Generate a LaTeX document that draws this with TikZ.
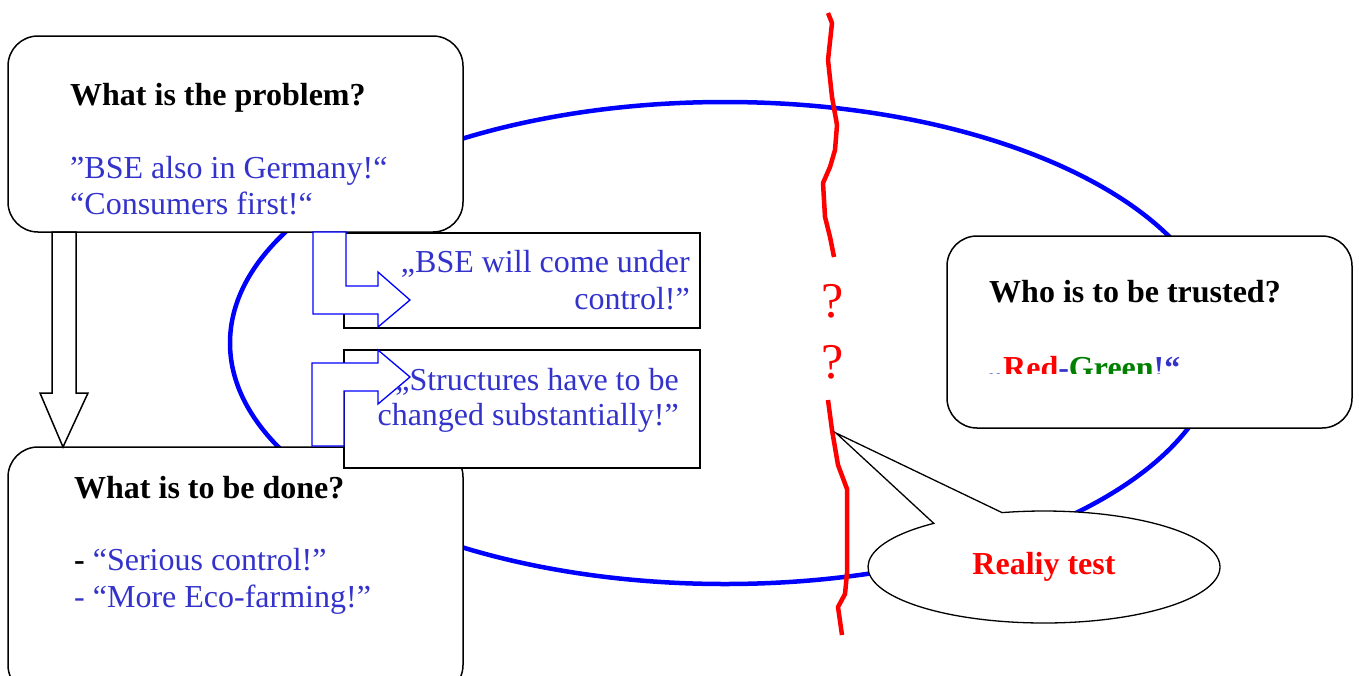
\documentclass[tikz,border=0pt]{standalone}
\usepackage{fontspec}
\setmainfont{Liberation Serif}
\usetikzlibrary{shapes.callouts}
\definecolor{quoteblue}{RGB}{51,51,204}
\definecolor{partygreen}{RGB}{0,128,0}

\begin{document}
\fontsize{32}{37}\selectfont
\begin{tikzpicture}[x=1pt,y=-1pt,
        roundbox/.style={draw, line width=1.5pt, fill=white, rounded corners=30pt, inner sep=0pt},
        plainbox/.style={draw, line width=1.5pt, fill=white, inner sep=0pt},
        title/.style={font=\bfseries, anchor=base west, inner sep=0pt},
        said/.style={text=quoteblue, anchor=base west, inner sep=0pt},
        saidright/.style={text=quoteblue, anchor=base east, inner sep=0pt},
        blockarrow/.style={draw=blue, line width=1.3pt, fill=white},
        cutline/.style={red, line width=4.5pt, line join=round}]
        \useasboundingbox (0,0) rectangle (1359,675);
        \draw[blue, line width=4.5pt] (725,343) ellipse [x radius=495, y radius=241]; % the cycle
        % boxes
        \node[roundbox, minimum width=455pt, minimum height=196pt] (probbox) at (235.5,134) {};
        \node[roundbox, minimum width=455pt, minimum height=248pt] (donebox) at (235.5,571) {};
        \node[roundbox, minimum width=405pt, minimum height=192pt] (trustbox) at (1149.5,332) {};
        \node[plainbox, minimum width=356pt, minimum height=95pt] (ctrlbox) at (522,280.5) {};
        \node[plainbox, minimum width=356pt, minimum height=118pt] (changebox) at (522,409) {};
        % arrows between the boxes
        \draw[line width=1.5pt, fill=white] (52,232) -- (76,232) -- (76,393) -- (88,393) -- (63,447) -- (40,393) -- (52,393) -- cycle;
        \draw[blockarrow] (313,232) -- (346,232) -- (346,286) -- (378,286) -- (378,272) -- (410,300) -- (378,327) -- (378,314) -- (313,314) -- cycle;
        \draw[blockarrow] (312,446) -- (312,363) -- (378,363) -- (378,350) -- (410,377) -- (378,404) -- (378,391) -- (344,391) -- (344,446) -- cycle;
        % the break
        \draw[cutline] (828,13) -- (832,23) -- (828,60) -- (832,97) -- (837,125) -- (835,150) -- (830,167) -- (823,183) -- (825,217) -- (830,237) -- (834,257);
        \draw[cutline] (828,400) -- (832,430) -- (838,465) -- (847,489) -- (847,573) -- (845,594) -- (838,607) -- (842,635);
        \node[text=red, font=\fontsize{50}{50}\selectfont, anchor=base, inner sep=0pt] (askA) at (833,317) {?};
        \node[text=red, font=\fontsize{50}{50}\selectfont, anchor=base, inner sep=0pt] (askB) at (833,378) {?};
        \coordinate (rtip) at (836,433);
        \node[ellipse callout, draw, line width=1.3pt, fill=white, minimum width=352pt, minimum height=112pt,
              callout absolute pointer={(rtip)}, callout pointer arc=25,
              text=red, font=\bfseries] (reality) at (1044,567) {Realiy test};
        % texts
        \node[title] (probT) at (70,105) {What is the problem?};
        \node[said] (probA) at (70,178) {”BSE also in Germany!“};
        \node[said] (probB) at (70,214) {“Consumers first!“};
        \node[title] (doneT) at (74,498) {What is to be done?};
        \node[said] (doneA) at (74,570) {\textcolor{black}{\bfseries -} “Serious control!”};
        \node[said] (doneB) at (74,607) {- “More Eco-farming!”};
        \node[saidright] (ctrlA) at (690,272) {„BSE will come under};
        \node[saidright] (ctrlB) at (690,309) {control!”};
        \node[saidright] (changeA) at (679,390) {„Structures have to be};
        \node[saidright] (changeB) at (679,425) {changed substantially!”};
        \node[title] (trustT) at (989,302) {Who is to be trusted?};
        \begin{scope}
        \clip (947,236) rectangle (1352,373);
        \node[title, text=quoteblue] (trustA) at (987,378) {„\textcolor{red}{Red}-\textcolor{partygreen}{Green}!“};
        \end{scope}
\end{tikzpicture}
\end{document}
